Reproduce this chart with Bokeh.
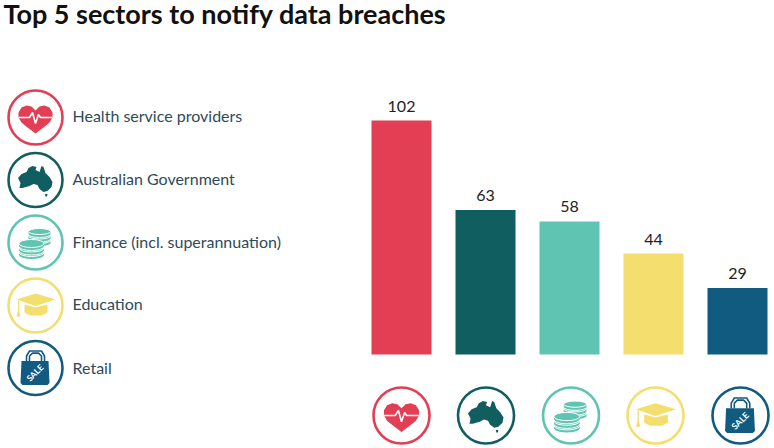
from bokeh.plotting import figure
from bokeh.models import Range1d
from bokeh.core.properties import value
from bokeh.embed import file_html
from bokeh.resources import INLINE

categories = ["Health service providers", "Australian Government", "Finance (incl. superannuation)", "Education", "Retail"]
values = [102, 63, 58, 44, 29]
colors = ["#e23e54", "#115e60", "#5fc4b1", "#f3de6e", "#115a80"]
title = "Top 5 sectors to notify data breaches"
FONT = "Lato"
TEXTC = "#2f4a5a"

W, H = 774, 448
SP = 84.0
x_pos = [0, 1, 2, 3, 4]
PY = 234 / 102
p = figure(width=W, height=H, output_backend="svg", toolbar_location=None,
           x_range=Range1d(-401 / SP, (W - 401) / SP),
           y_range=Range1d(-(H - 354) / PY, 354 / PY),
           min_border=0, background_fill_color="white")
p.axis.visible = False
p.grid.visible = False
p.outline_line_color = None
p.extra_x_ranges["px"] = Range1d(0, W)
p.extra_y_ranges["py"] = Range1d(H, 0)
PX = dict(x_range_name="px", y_range_name="py")

# bars & values
p.vbar(x=x_pos, top=values, bottom=0, width=60 / SP, color=colors, line_color=None)
p.text(x=x_pos, y=values, text=[str(v) for v in values], text_align="center", text_baseline="bottom",
       y_offset=-9, text_font=value(FONT), text_font_size="16px", text_color="#222222")

# title
p.text(x=[3], y=[13], text=[title], text_baseline="middle", text_font=value(FONT), text_font_style="bold",
       text_font_size="27px", text_color="#111111", **PX)

# legend labels
label_y = [115, 178, 241, 303, 367]
p.text(x=[72] * 5, y=label_y, text=categories, text_baseline="middle", text_font=value(FONT),
       text_font_size="16px", text_color=TEXTC, **PX)

HEART_R = [(0, -7), (4, -11), (9, -12), (14, -10), (17, -5), (17, 0), (14, 5), (8, 10), (0, 16)]
AUS = [(-17.5, -2), (-14, -6), (-9, -8), (-7, -12), (-3, -14), (1, -13), (0, -10), (4, -8), (6, -14), (8, -13),
       (10, -7), (14, -3), (17, 2), (16, 7), (12, 11), (8, 12), (4, 9), (2, 5), (-2, 4), (-6, 6), (-13, 8), (-16, 8), (-15, 3)]


def poly(cx, cy, s, pts, color):
    p.patch([cx + s * a for a, b in pts], [cy + s * b for a, b in pts], color=color, line_color=None, **PX)


def heart(cx, cy, s, c):
    pts = [(-a, b) for a, b in reversed(HEART_R[1:])] + HEART_R
    poly(cx, cy, s, pts, c)
    ecg = [(-17, 0), (-6, 0), (-3, -5), (0, 6), (3, -3), (5, 0), (17, 0)]
    p.line([cx + s * a for a, b in ecg], [cy + s * b for a, b in ecg], line_color="white", line_width=1.6, **PX)


def australia(cx, cy, s, c):
    poly(cx, cy, s, AUS, c)
    poly(cx, cy, s, [(9.5, 14), (12, 14), (11.5, 16.5), (10, 16.5)], c)


def stack(cx, cy, s, c, rx, ry, layers, gap):
    for i in reversed(range(layers)):
        y = cy + s * i * gap
        p.ellipse(x=[cx], y=[y + s * (gap - 1.5)], width=2 * s * rx, height=2 * s * ry, fill_color=c, line_color="white", line_width=1, **PX)
        p.quad(left=[cx - s * rx], right=[cx + s * rx], top=[y], bottom=[y + s * (gap - 1.5)], fill_color=c, line_color=None, **PX)
        p.ellipse(x=[cx], y=[y], width=2 * s * rx, height=2 * s * ry, fill_color=c, line_color="white", line_width=1, **PX)


def coins(cx, cy, s, c):
    stack(cx + 4 * s, cy - 11 * s, s, c, 11, 3, 3, 4.5)
    stack(cx - 4 * s, cy + 1 * s, s, c, 12.5, 4, 3, 4.5)


def cap(cx, cy, s, c):
    poly(cx, cy, s, [(-11, -1), (0, 2), (12, -1), (12, 7), (6, 10), (-5, 10), (-11, 7)], c)
    poly(cx, cy, s, [(-19, -6), (0, -12), (20, -6), (0, 0.5)], c)
    poly(cx, cy, s, [(-17.5, -5), (-16.2, -5), (-16.2, 5), (-15, 11), (-19, 11), (-17.5, 5)], c)


def bag(cx, cy, s, c):
    poly(cx, cy, s, [(-14, -7), (13, -7), (14, 15), (12, 17), (-13, 17), (-15, 15)], c)
    for d in (0, 3):
        h = [(-9 + d, -7), (-9 + d, -12), (-6 + d, -17 + d * .7), (6 - d, -17 + d * .7), (9 - d, -12), (9 - d, -7)]
        p.line([cx + s * a for a, b in h], [cy + s * b for a, b in h], line_color=c, line_width=1.6, **PX)
    p.text(x=[cx - s * 0.5], y=[cy + s * 5], text=["SALE"], angle=45, angle_units="deg", text_align="center",
           text_baseline="middle", text_font=value(FONT), text_font_style="bold",
           text_font_size=f"{8.5 * s:.1f}px", text_color="white", **PX)


icons = [heart, australia, coins, cap, bag]
legend_cy = [117, 179.5, 242, 305, 367.5]
bottom_cx = [401, 485.5, 570.5, 655, 740]

for i in range(5):
    for cx, cy, s, r in [(35, legend_cy[i], 1.0, 27), (bottom_cx[i], 415, 1.03, 28)]:
        p.circle(x=[cx], y=[cy], radius=r, fill_color="white", line_color=colors[i], line_width=2.6, **PX)
        icons[i](cx, cy, s, colors[i])

open("out.html", "w").write(file_html(p, INLINE))
